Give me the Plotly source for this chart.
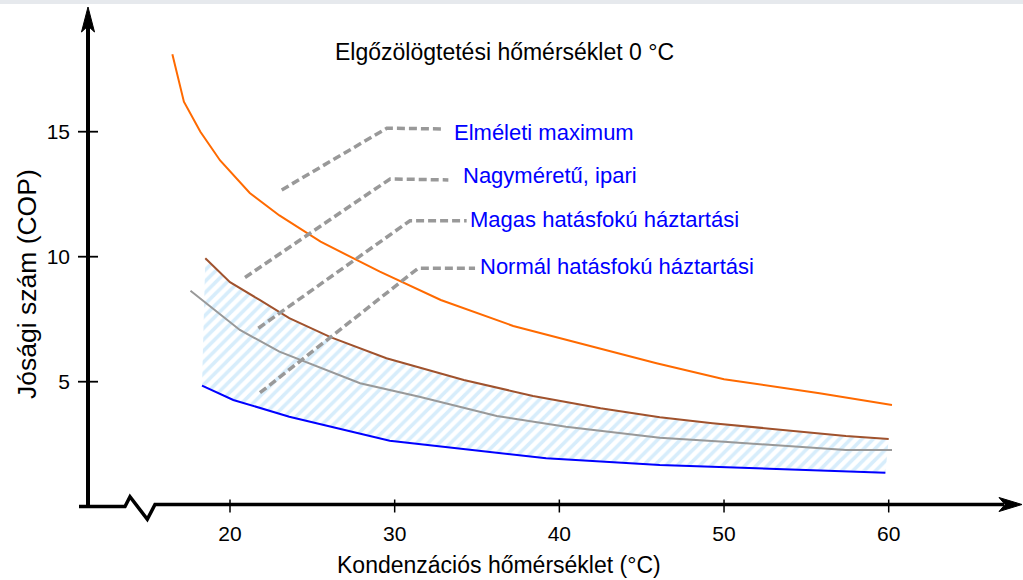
import plotly.graph_objects as go

W, H = 1023, 580

# Condensing temperature (°C) and COP for each heat-pump class
elmeleti_t = [16.5, 17.2, 18.2, 19.4, 21.2, 23.0, 25.5, 29.1, 32.8, 37.2, 45.9, 50.0, 55.8, 60.2]
elmeleti_cop = [18.1, 16.2, 15.0, 13.85, 12.55, 11.65, 10.6, 9.4, 8.27, 7.23, 5.74, 5.1, 4.54, 4.07]

ipari_t = [18.5, 20.0, 21.8, 23.6, 26.1, 29.5, 34.2, 38.4, 42.5, 46.1, 49.3, 53.0, 57.4, 60.0]
ipari_cop = [9.94, 8.98, 8.27, 7.54, 6.78, 5.94, 5.07, 4.43, 3.94, 3.58, 3.34, 3.11, 2.83, 2.71]

magas_t = [17.6, 20.6, 23.0, 27.9, 31.5, 36.2, 40.4, 46.1, 50.0, 57.4, 60.2]
magas_cop = [8.64, 7.07, 6.2, 4.94, 4.4, 3.63, 3.2, 2.76, 2.6, 2.27, 2.27]

normal_t = [18.3, 20.2, 23.6, 29.7, 39.2, 46.1, 59.8]
normal_cop = [4.84, 4.27, 3.6, 2.64, 1.94, 1.67, 1.36]

x_ticks = [20, 30, 40, 50, 60]
y_ticks = [5, 10, 15]

title_text = "Elgőzölögtetési hőmérséklet 0 °C"
x_title = "Kondenzációs hőmérséklet (°C)"
y_title = "Jósági szám (COP)"

labels = ["Elméleti maximum", "Nagyméretű, ipari",
          "Magas hatásfokú háztartási", "Normál hatásfokú háztartási"]

FONT = "Liberation Sans, Arial, sans-serif"
FS_TICK = 21
FS_TITLE = 23
FS_LABEL = 22
FS_YTITLE = 26.5

# pixel scale of the axes
PX_PER_DEG = 16.4675
PX_PER_COP = 25.0
X20_PX = 230.0
Y0_PX = 506.7
x_range = [20 - X20_PX / PX_PER_DEG, 20 + (W - X20_PX) / PX_PER_DEG]
y_range = [-(H - Y0_PX) / PX_PER_COP, Y0_PX / PX_PER_COP]


def px(x):
    return x / W


def py(y):
    return 1 - y / H


fig = go.Figure()

# hatched band between the industrial and the normal household curves
fig.add_trace(go.Scatter(
    x=ipari_t + normal_t[::-1],
    y=ipari_cop + normal_cop[::-1],
    fill="toself", mode="none",
    fillcolor="rgba(0,0,0,0)",
    fillpattern=dict(shape="/", fgcolor="#b0dbf8", bgcolor="white",
                     size=8, solidity=0.45),
    hoverinfo="skip", showlegend=False,
))

for t, c, col, w in [
    (elmeleti_t, elmeleti_cop, "#ff6a00", 2),
    (ipari_t, ipari_cop, "#a0522d", 2),
    (magas_t, magas_cop, "#999999", 2),
    (normal_t, normal_cop, "#0000ff", 2),
]:
    fig.add_trace(go.Scatter(x=t, y=c, mode="lines",
                             line=dict(color=col, width=w),
                             showlegend=False, hoverinfo="skip"))

shapes = []

# leader lines from the curves to their labels (temperature, COP)
leaders = [
    [(23.14, 12.67), (29.52, 15.14), (32.95, 15.11)],
    [(20.91, 9.17), (29.72, 13.11), (33.26, 13.07)],
    [(21.72, 7.14), (30.93, 11.44), (34.37, 11.44)],
    [(21.82, 4.56), (31.43, 9.54), (34.88, 9.54)],
]
for pts in leaders:
    path = "M " + " L ".join(f"{a},{b}" for a, b in pts)
    shapes.append(dict(type="path", xref="x", yref="y", path=path,
                       line=dict(color="#999999", width=3.5, dash="8px,4px")))

label_pos = [(33.46, 14.95), (34.01, 13.23), (34.48, 11.47), (35.03, 9.59)]
annotations = []
for txt, (a, b) in zip(labels, label_pos):
    annotations.append(dict(x=a, y=b, xref="x", yref="y", text=txt,
                            showarrow=False, xanchor="left", yanchor="middle",
                            font=dict(family=FONT, size=FS_LABEL, color="#0000ff")))

# axes drawn by hand: y axis with arrow, x axis with a break mark and arrow
black = "#000000"
shapes += [
    dict(type="rect", xref="paper", yref="paper", x0=0, x1=1, y0=py(4), y1=1,
         fillcolor="#e6e9ed", line=dict(width=0), layer="below"),
    dict(type="line", xref="paper", yref="paper", x0=px(88), x1=px(88),
         y0=py(507), y1=py(24), line=dict(color=black, width=4)),
    dict(type="path", xref="paper", yref="paper",
         path=f"M {px(88)},{py(7)} L {px(81.5)},{py(32)} L {px(88)},{py(26)} "
              f"L {px(94.5)},{py(32)} Z",
         fillcolor=black, line=dict(color=black, width=1)),
    dict(type="path", xref="paper", yref="paper",
         path=f"M {px(79)},{py(506.5)} L {px(125)},{py(506.5)} L {px(130)},{py(496.7)} "
              f"L {px(147.3)},{py(519.3)} L {px(155)},{py(504.5)} L {px(1004)},{py(504.5)}",
         line=dict(color=black, width=3.5)),
    dict(type="path", xref="paper", yref="paper",
         path=f"M {px(1022)},{py(504.5)} L {px(999)},{py(497.5)} L {px(1005)},{py(504.5)} "
              f"L {px(999)},{py(511.5)} Z",
         fillcolor=black, line=dict(color=black, width=1)),
]
for v in x_ticks:
    shapes.append(dict(type="line", xref="x", yref="paper", x0=v, x1=v,
                       y0=py(499.5), y1=py(512.5), line=dict(color=black, width=1.5)))
for v in y_ticks:
    shapes.append(dict(type="line", xref="paper", yref="y", x0=px(78), x1=px(98),
                       y0=v, y1=v, line=dict(color=black, width=1.8)))

annotations += [
    dict(x=px(504.5), y=py(52), xref="paper", yref="paper", text=title_text,
         showarrow=False, xanchor="center", yanchor="middle",
         font=dict(family=FONT, size=FS_TITLE, color=black)),
    dict(x=px(499), y=py(565), xref="paper", yref="paper", text=x_title,
         showarrow=False, xanchor="center", yanchor="middle",
         font=dict(family=FONT, size=FS_TITLE, color=black)),
    dict(x=px(27), y=py(284), xref="paper", yref="paper", text=y_title,
         showarrow=False, textangle=-90, xanchor="center", yanchor="middle",
         font=dict(family=FONT, size=FS_YTITLE, color=black)),
]

fig.update_layout(
    width=W, height=H,
    margin=dict(l=0, r=0, t=0, b=0),
    paper_bgcolor="white", plot_bgcolor="white",
    shapes=shapes, annotations=annotations,
    showlegend=False,
    xaxis=dict(range=x_range, domain=[0, 1], anchor="free", position=py(505),
               showline=False, showgrid=False, zeroline=False, ticks="",
               tickvals=x_ticks, ticklabelstandoff=14, automargin=False,
               tickfont=dict(family=FONT, size=FS_TICK, color=black), fixedrange=True),
    yaxis=dict(range=y_range, domain=[0, 1], anchor="free", position=px(88),
               showline=False, showgrid=False, zeroline=False, ticks="",
               tickvals=y_ticks, ticklabelstandoff=18, automargin=False,
               tickfont=dict(family=FONT, size=FS_TICK, color=black), fixedrange=True),
)

fig.write_html("out.html", config={"displayModeBar": False})
